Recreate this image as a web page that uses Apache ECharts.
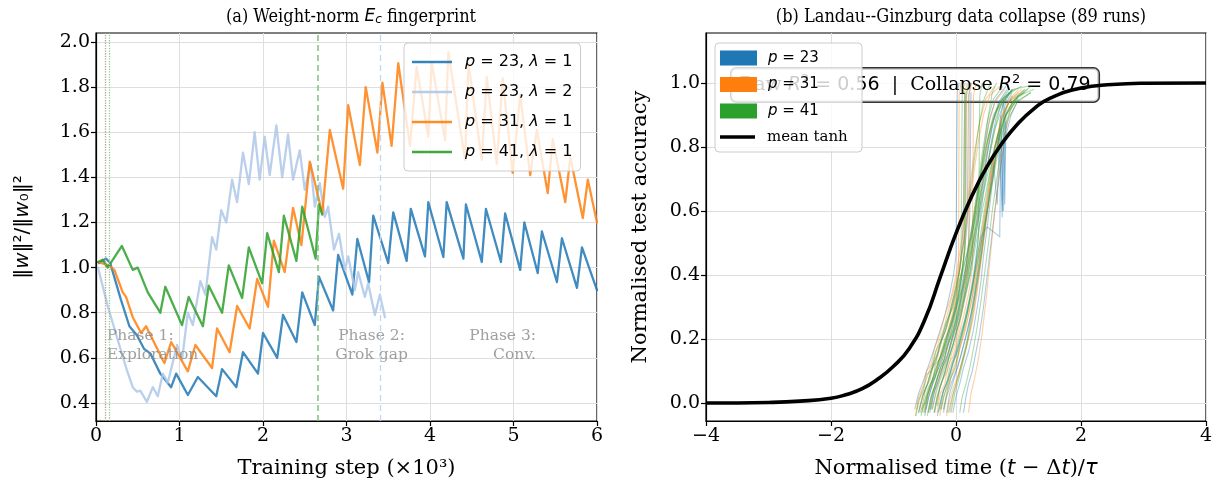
<!DOCTYPE html>
<html>
<head>
<meta charset="utf-8">
<script src="https://cdn.jsdelivr.net/npm/echarts@6.0.0/dist/echarts.min.js"></script>
<style>
  html, body { margin: 0; padding: 0; background: #fff; }
  #chart { width: 1229px; height: 491px; }
</style>
</head>
<body>
<div id="chart"></div>
<script>
// ---- panel (a): weight norm traces, x in thousands of steps ----
const normP23L1 = [[0.036,1.02],[0.12,1.04],[0.17,1.02],[0.30,0.856],[0.40,0.74],[0.49,0.70],[0.575,0.64],[0.65,0.62],[0.77,0.53],[0.90,0.47],[0.96,0.53],[1.10,0.435],[1.22,0.515],[1.44,0.43],[1.51,0.55],[1.68,0.47],[1.76,0.625],[1.94,0.53],[2.00,0.71],[2.17,0.60],[2.24,0.79],[2.40,0.67],[2.47,0.89],[2.62,0.745],[2.67,0.96],[2.84,0.81],[2.90,1.056],[3.07,0.88],[3.13,1.127],[3.27,0.935],[3.32,1.23],[3.50,1.02],[3.56,1.245],[3.72,1.03],[3.77,1.26],[3.94,1.05],[3.98,1.29],[4.16,1.047],[4.20,1.29],[4.40,1.04],[4.43,1.28],[4.62,1.025],[4.67,1.26],[4.85,1.025],[4.90,1.24],[5.08,0.99],[5.13,1.2],[5.29,0.976],[5.34,1.16],[5.52,0.936],[5.58,1.13],[5.76,0.91],[5.82,1.09],[6.0,0.9]];
const normP23L2 = [[0.024,1.0],[0.14,0.83],[0.26,0.68],[0.37,0.545],[0.44,0.47],[0.49,0.45],[0.53,0.455],[0.61,0.405],[0.68,0.47],[0.74,0.43],[0.80,0.53],[0.86,0.49],[0.97,0.657],[1.03,0.59],[1.10,0.80],[1.16,0.745],[1.25,0.94],[1.31,0.88],[1.39,1.135],[1.44,1.08],[1.50,1.255],[1.56,1.20],[1.63,1.39],[1.69,1.29],[1.76,1.51],[1.83,1.37],[1.90,1.60],[1.96,1.39],[2.02,1.58],[2.08,1.41],[2.16,1.63],[2.23,1.40],[2.30,1.59],[2.36,1.39],[2.44,1.52],[2.50,1.345],[2.57,1.46],[2.62,1.27],[2.68,1.375],[2.74,1.225],[2.78,1.27],[2.85,1.08],[2.91,1.15],[2.98,0.99],[3.02,1.05],[3.10,0.90],[3.14,0.98],[3.22,0.87],[3.26,0.93],[3.34,0.79],[3.40,0.88],[3.46,0.78]];
const normP31L1 = [[0.024,1.025],[0.15,1.01],[0.22,0.99],[0.32,0.89],[0.36,0.87],[0.44,0.78],[0.54,0.71],[0.60,0.74],[0.68,0.68],[0.80,0.59],[0.82,0.577],[0.90,0.67],[1.10,0.54],[1.19,0.657],[1.39,0.555],[1.45,0.73],[1.60,0.625],[1.69,0.83],[1.84,0.73],[1.93,0.95],[2.06,0.826],[2.13,1.12],[2.26,0.98],[2.36,1.265],[2.46,1.10],[2.56,1.47],[2.71,1.24],[2.80,1.61],[2.96,1.35],[3.02,1.72],[3.16,1.455],[3.23,1.80],[3.37,1.51],[3.43,1.82],[3.54,1.54],[3.62,1.906],[3.76,1.54],[3.84,1.89],[3.98,1.58],[4.02,1.91],[4.18,1.565],[4.22,1.955],[4.42,1.477],[4.46,1.907],[4.62,1.477],[4.68,1.845],[4.80,1.46],[4.87,1.84],[4.99,1.42],[5.08,1.765],[5.20,1.41],[5.28,1.61],[5.41,1.33],[5.47,1.57],[5.62,1.29],[5.68,1.49],[5.83,1.22],[5.89,1.39],[6.0,1.2]];
const normP41L1 = [[0.024,1.025],[0.08,1.035],[0.14,1.0],[0.31,1.096],[0.44,0.99],[0.50,1.0],[0.62,0.89],[0.77,0.80],[0.83,0.915],[1.03,0.745],[1.11,0.87],[1.28,0.74],[1.35,0.92],[1.51,0.80],[1.59,1.01],[1.75,0.865],[1.83,1.09],[1.99,0.93],[2.05,1.153],[2.19,0.98],[2.25,1.23],[2.40,1.03],[2.47,1.27],[2.63,1.04],[2.67,1.28],[2.71,1.235]];

const phaseMarkX = [0.11, 0.16, 2.65, 3.40];
const phaseText = ['Phase 1:\nExploration', 'Phase 2:\nGrok gap', 'Phase 3:\nConv.'];
const phaseTextX = [0.13, 3.3, 5.27];
const phaseTextY = [0.655, 0.655, 0.655];

const leftYTicks = [0.4, 0.6, 0.8, 1.0, 1.2, 1.4, 1.6, 1.8, 2.0];

// ---- panel (b): collapsed runs, x = (t - dt)/tau, y = normalised accuracy ----
const runsP23 = [
  [[-0.6,-0.03],[-0.54,0.02],[-0.47,0.05],[-0.4,0.1],[-0.32,0.13],[-0.25,0.19],[-0.16,0.23],[-0.08,0.29],[0.0,0.35],[0.06,0.42],[0.1,0.5],[0.12,0.62],[0.14,0.97]],
  [[-0.42,-0.03],[-0.36,0.03],[-0.3,0.06],[-0.22,0.11],[-0.15,0.14],[-0.07,0.2],[0.01,0.25],[0.09,0.32],[0.17,0.39],[0.25,0.47],[0.33,0.57],[0.41,0.68],[0.5,0.78],[0.58,0.87],[0.68,0.94],[0.82,0.98]],
  [[-0.25,-0.02],[-0.2,0.04],[-0.13,0.07],[-0.06,0.12],[0.02,0.16],[0.1,0.22],[0.18,0.28],[0.26,0.36],[0.32,0.44],[0.4,0.52],[0.5,0.55],[0.7,0.52],[0.72,0.9],[0.74,0.58],[0.76,0.95],[0.78,0.62],[0.8,0.88]],
  [[-0.5,-0.04],[-0.44,0.02],[-0.37,0.06],[-0.3,0.1],[-0.23,0.13],[-0.15,0.18],[-0.07,0.23],[0.0,0.29],[0.08,0.36],[0.16,0.43],[0.22,0.5],[0.3,0.6],[0.38,0.7],[0.46,0.8],[0.54,0.89],[0.64,0.95],[0.8,0.99]],
  [[-0.15,-0.03],[-0.1,0.03],[-0.04,0.07],[0.04,0.12],[0.12,0.18],[0.2,0.24],[0.28,0.31],[0.36,0.4],[0.42,0.48],[0.48,0.57],[0.54,0.66],[0.6,0.75],[0.66,0.62],[0.7,0.88],[0.76,0.94],[0.9,0.98]],
  [[-0.66,-0.02],[-0.6,0.03],[-0.54,0.06],[-0.47,0.1],[-0.4,0.14],[-0.33,0.18],[-0.25,0.23],[-0.17,0.28],[-0.1,0.34],[-0.04,0.4],[0.0,0.46],[0.02,0.97],[0.05,1.0]],
  [[-0.35,-0.03],[-0.3,0.02],[-0.24,0.06],[-0.17,0.1],[-0.1,0.15],[-0.02,0.2],[0.06,0.26],[0.14,0.33],[0.22,0.4],[0.28,0.48],[0.36,0.58],[0.44,0.7],[0.52,0.8],[0.6,0.88],[0.7,0.94],[0.85,0.97]],
  [[-0.05,-0.03],[0.0,0.02],[0.06,0.06],[0.12,0.11],[0.2,0.16],[0.28,0.23],[0.34,0.3],[0.4,0.38],[0.44,0.46],[0.5,0.55],[0.56,0.65],[0.62,0.75],[0.68,0.84],[0.74,0.6],[0.78,0.93],[0.9,0.97]],
  [[-0.48,-0.02],[-0.42,0.03],[-0.36,0.07],[-0.28,0.11],[-0.2,0.16],[-0.12,0.21],[-0.04,0.27],[0.04,0.34],[0.1,0.41],[0.14,0.48],[0.18,0.56],[0.2,0.96],[0.24,1.0]],
  [[-0.3,-0.04],[-0.24,0.01],[-0.18,0.05],[-0.1,0.09],[-0.03,0.14],[0.05,0.19],[0.13,0.25],[0.21,0.32],[0.28,0.4],[0.34,0.49],[0.4,0.6],[0.48,0.71],[0.56,0.81],[0.64,0.89],[0.74,0.94],[0.9,0.98]],
  [[-0.4,-0.02],[-0.34,0.04],[-0.28,0.07],[-0.2,0.12],[-0.12,0.16],[-0.04,0.22],[0.04,0.28],[0.1,0.35],[0.16,0.42],[0.2,0.5],[0.22,0.58],[0.24,0.97]],
  [[-0.2,-0.03],[-0.15,0.02],[-0.08,0.06],[0.0,0.1],[0.08,0.15],[0.16,0.21],[0.24,0.28],[0.3,0.35],[0.36,0.43],[0.42,0.52],[0.5,0.62],[0.58,0.72],[0.66,0.8],[0.72,0.86],[0.76,0.6],[0.8,0.92],[0.9,0.96]],
  [[0.12,-0.03],[0.16,0.02],[0.2,0.06],[0.26,0.1],[0.32,0.16],[0.38,0.22],[0.44,0.3],[0.5,0.4],[0.56,0.5],[0.62,0.6],[0.7,0.72],[0.78,0.82],[0.88,0.9],[1.0,0.95]]
];
const runsP31 = [
  [[-0.58,-0.02],[-0.52,0.03],[-0.45,0.06],[-0.38,0.11],[-0.3,0.14],[-0.22,0.2],[-0.14,0.24],[-0.06,0.3],[0.02,0.37],[0.08,0.44],[0.12,0.5],[0.14,0.97],[0.18,1.0]],
  [[-0.45,-0.03],[-0.4,0.02],[-0.33,0.06],[-0.26,0.1],[-0.2,0.15],[-0.12,0.19],[-0.04,0.25],[0.04,0.31],[0.12,0.38],[0.2,0.46],[0.28,0.56],[0.36,0.67],[0.44,0.78],[0.52,0.87],[0.62,0.94],[0.78,0.98]],
  [[-0.3,-0.03],[-0.25,0.03],[-0.18,0.06],[-0.12,0.12],[-0.04,0.15],[0.04,0.21],[0.12,0.27],[0.2,0.34],[0.26,0.42],[0.28,0.96],[0.32,1.0]],
  [[-0.65,-0.04],[-0.6,0.02],[-0.53,0.05],[-0.47,0.1],[-0.4,0.12],[-0.33,0.18],[-0.25,0.22],[-0.17,0.28],[-0.08,0.33],[0.0,0.4],[0.06,0.47],[0.14,0.57],[0.22,0.68],[0.3,0.79],[0.38,0.88],[0.48,0.95],[0.62,0.99]],
  [[-0.2,-0.02],[-0.14,0.03],[-0.08,0.08],[0.0,0.11],[0.06,0.17],[0.14,0.22],[0.22,0.29],[0.3,0.37],[0.36,0.45],[0.42,0.54],[0.5,0.64],[0.58,0.74],[0.66,0.83],[0.74,0.9],[0.86,0.95],[1.0,0.98]],
  [[-0.5,-0.03],[-0.44,0.03],[-0.38,0.07],[-0.3,0.1],[-0.24,0.16],[-0.16,0.2],[-0.08,0.26],[0.0,0.33],[0.08,0.4],[0.14,0.47],[0.16,0.55],[0.17,0.98]],
  [[-0.38,-0.02],[-0.32,0.04],[-0.26,0.08],[-0.18,0.12],[-0.1,0.17],[-0.02,0.22],[0.06,0.28],[0.14,0.35],[0.22,0.43],[0.3,0.52],[0.38,0.63],[0.46,0.74],[0.54,0.84],[0.64,0.91],[0.8,0.96]],
  [[-0.1,-0.03],[-0.04,0.03],[0.02,0.07],[0.08,0.12],[0.16,0.17],[0.24,0.24],[0.3,0.31],[0.36,0.39],[0.42,0.48],[0.48,0.58],[0.56,0.7],[0.64,0.8],[0.72,0.88],[0.84,0.94],[1.0,0.97]],
  [[-0.55,-0.03],[-0.48,0.01],[-0.42,0.05],[-0.35,0.09],[-0.28,0.13],[-0.2,0.17],[-0.12,0.22],[-0.04,0.28],[0.02,0.34],[0.04,0.42],[0.05,0.96],[0.08,1.0]],
  [[-0.26,-0.04],[-0.2,0.02],[-0.14,0.05],[-0.06,0.1],[0.02,0.14],[0.1,0.2],[0.18,0.26],[0.26,0.33],[0.32,0.41],[0.4,0.5],[0.48,0.61],[0.56,0.72],[0.64,0.82],[0.74,0.9],[0.88,0.95],[1.05,0.98]],
  [[-0.34,-0.03],[-0.28,0.03],[-0.22,0.07],[-0.14,0.1],[-0.06,0.16],[0.02,0.21],[0.08,0.27],[0.14,0.34],[0.18,0.41],[0.2,0.48],[0.22,0.97],[0.25,1.0]],
  [[-0.62,-0.02],[-0.56,0.03],[-0.5,0.06],[-0.43,0.1],[-0.36,0.13],[-0.28,0.19],[-0.2,0.23],[-0.12,0.29],[-0.04,0.35],[0.04,0.42],[0.12,0.5],[0.2,0.6],[0.28,0.71],[0.36,0.82],[0.44,0.9],[0.54,0.96],[0.7,0.99]],
  [[-0.15,-0.04],[-0.1,0.01],[-0.04,0.05],[0.04,0.09],[0.12,0.14],[0.2,0.2],[0.28,0.27],[0.34,0.35],[0.4,0.44],[0.46,0.53],[0.54,0.64],[0.62,0.74],[0.7,0.83],[0.8,0.9],[0.94,0.95],[1.1,0.98]],
  [[0.2,-0.03],[0.24,0.03],[0.3,0.08],[0.36,0.14],[0.42,0.22],[0.48,0.32],[0.54,0.44],[0.6,0.56],[0.68,0.7],[0.76,0.82],[0.86,0.91],[1.0,0.96]]
];
const runsP41 = [
  [[-0.64,-0.04],[-0.6,0.01],[-0.52,0.04],[-0.47,0.09],[-0.4,0.1],[-0.33,0.16],[-0.25,0.19],[-0.16,0.25],[-0.05,0.3],[0.05,0.38],[0.15,0.45],[0.28,0.55],[0.4,0.66],[0.52,0.76],[0.63,0.86],[0.75,0.93],[0.9,0.98]],
  [[-0.5,-0.03],[-0.45,0.03],[-0.38,0.06],[-0.33,0.12],[-0.25,0.14],[-0.18,0.2],[-0.08,0.24],[0.02,0.31],[0.12,0.37],[0.2,0.44],[0.3,0.53],[0.4,0.63],[0.5,0.74],[0.6,0.84],[0.7,0.92],[0.85,0.97],[1.05,0.99]],
  [[-0.42,-0.02],[-0.36,0.04],[-0.3,0.08],[-0.22,0.11],[-0.15,0.17],[-0.05,0.22],[0.03,0.28],[0.1,0.34],[0.18,0.41],[0.24,0.48],[0.3,0.58],[0.38,0.7],[0.45,0.8],[0.52,0.9],[0.58,0.97],[0.65,1.0]],
  [[-0.35,-0.03],[-0.3,0.02],[-0.22,0.07],[-0.15,0.12],[-0.08,0.16],[0.0,0.22],[0.08,0.27],[0.16,0.34],[0.25,0.42],[0.32,0.5],[0.42,0.6],[0.52,0.7],[0.62,0.8],[0.72,0.88],[0.85,0.94],[1.1,0.98]],
  [[-0.55,-0.02],[-0.48,0.05],[-0.42,0.07],[-0.35,0.13],[-0.28,0.16],[-0.2,0.22],[-0.12,0.27],[-0.04,0.33],[0.05,0.4],[0.08,0.45],[0.1,0.98],[0.15,1.0]],
  [[-0.28,-0.03],[-0.22,0.03],[-0.15,0.06],[-0.1,0.11],[-0.02,0.15],[0.06,0.21],[0.14,0.26],[0.22,0.33],[0.3,0.4],[0.38,0.48],[0.46,0.56],[0.55,0.66],[0.65,0.76],[0.75,0.85],[0.88,0.92],[1.0,0.96],[1.2,0.99]],
  [[-0.6,-0.03],[-0.52,0.03],[-0.46,0.06],[-0.4,0.1],[-0.32,0.14],[-0.26,0.18],[-0.18,0.22],[-0.1,0.28],[-0.02,0.35],[0.06,0.42],[0.12,0.5],[0.2,0.62],[0.28,0.74],[0.36,0.86],[0.45,0.95],[0.55,1.0]],
  [[-0.2,-0.02],[-0.14,0.04],[-0.08,0.08],[0.0,0.12],[0.06,0.18],[0.14,0.24],[0.2,0.3],[0.26,0.36],[0.32,0.44],[0.36,0.52],[0.38,0.96],[0.42,1.0]],
  [[-0.46,-0.04],[-0.4,0.02],[-0.34,0.05],[-0.27,0.1],[-0.2,0.13],[-0.12,0.19],[-0.04,0.23],[0.04,0.3],[0.1,0.36],[0.16,0.43],[0.22,0.5],[0.3,0.6],[0.38,0.7],[0.48,0.8],[0.58,0.88],[0.7,0.94],[0.85,0.98]],
  [[-0.38,-0.02],[-0.32,0.03],[-0.26,0.07],[-0.2,0.1],[-0.12,0.15],[-0.06,0.2],[0.02,0.25],[0.1,0.31],[0.18,0.38],[0.24,0.46],[0.3,0.55],[0.36,0.64],[0.44,0.74],[0.52,0.83],[0.62,0.9],[0.76,0.95],[0.95,0.98]],
  [[-0.3,-0.01],[-0.26,0.05],[-0.18,0.09],[-0.12,0.14],[-0.05,0.18],[0.03,0.24],[0.1,0.3],[0.18,0.37],[0.26,0.45],[0.34,0.55],[0.44,0.66],[0.56,0.76],[0.68,0.84],[0.8,0.9],[0.95,0.94],[1.2,0.97]],
  [[-0.58,-0.03],[-0.5,0.0],[-0.44,0.04],[-0.37,0.08],[-0.3,0.12],[-0.22,0.16],[-0.14,0.21],[-0.06,0.26],[0.02,0.32],[0.1,0.4],[0.18,0.47],[0.26,0.56],[0.34,0.67],[0.42,0.78],[0.5,0.88],[0.6,0.95],[0.75,0.99]],
  [[-0.12,-0.03],[-0.06,0.02],[0.0,0.06],[0.06,0.1],[0.12,0.15],[0.18,0.2],[0.24,0.27],[0.3,0.34],[0.36,0.42],[0.42,0.5],[0.5,0.6],[0.58,0.7],[0.66,0.8],[0.76,0.88],[0.9,0.94],[1.1,0.97]],
  [[-0.52,-0.03],[-0.46,0.02],[-0.4,0.06],[-0.33,0.08],[-0.28,0.13],[-0.2,0.17],[-0.12,0.23],[-0.04,0.28],[0.04,0.35],[0.1,0.42],[0.14,0.48],[0.16,0.95],[0.2,1.0]],
  [[-0.44,-0.03],[-0.38,0.03],[-0.32,0.06],[-0.25,0.11],[-0.18,0.14],[-0.1,0.2],[-0.02,0.25],[0.06,0.31],[0.14,0.38],[0.2,0.45],[0.26,0.53],[0.34,0.63],[0.42,0.73],[0.5,0.82],[0.6,0.9],[0.74,0.95],[0.92,0.98],[1.15,0.99]],
  [[-0.24,-0.02],[-0.18,0.03],[-0.12,0.07],[-0.05,0.12],[0.02,0.16],[0.1,0.22],[0.18,0.28],[0.26,0.35],[0.32,0.43],[0.38,0.51],[0.46,0.61],[0.54,0.71],[0.62,0.8],[0.72,0.87],[0.84,0.92],[1.0,0.96],[1.25,0.98]],
  [[-0.56,-0.04],[-0.5,0.01],[-0.44,0.05],[-0.38,0.07],[-0.3,0.11],[-0.22,0.15],[-0.14,0.2],[-0.06,0.25],[0.02,0.31],[0.08,0.38],[0.12,0.45],[0.14,0.52],[0.15,0.97]],
  [[-0.08,-0.03],[-0.02,0.03],[0.04,0.07],[0.1,0.12],[0.16,0.17],[0.22,0.23],[0.28,0.3],[0.34,0.38],[0.4,0.46],[0.46,0.55],[0.54,0.65],[0.62,0.75],[0.7,0.84],[0.8,0.9],[0.94,0.95],[1.15,0.98]],
  [[0.06,-0.03],[0.1,0.02],[0.16,0.06],[0.22,0.11],[0.28,0.17],[0.34,0.24],[0.4,0.32],[0.46,0.41],[0.52,0.5],[0.58,0.6],[0.66,0.71],[0.74,0.81],[0.84,0.89],[0.98,0.94],[1.2,0.97]]
];
const meanTanhX = [-4, -3, -2.5, -2, -1.75, -1.5, -1.25, -1, -0.75, -0.5, -0.25, 0, 0.25, 0.5, 0.75, 1, 1.25, 1.5, 2, 2.5, 3, 4];
const meanTanhY = [0.0, 0.002, 0.006, 0.015, 0.027, 0.045, 0.075, 0.115, 0.17, 0.26, 0.395, 0.53, 0.645, 0.74, 0.815, 0.875, 0.92, 0.952, 0.984, 0.995, 0.999, 1.0];
const rightYTicks = [0.0, 0.2, 0.4, 0.6, 0.8, 1.0];

const SERIF = 'DejaVu Serif';
const SANS = 'DejaVu Sans';
const GRID_COLOR = '#dedede';

const chart = echarts.init(document.getElementById('chart'), null, { renderer: 'canvas' });

function axisBase(extra) {
  return Object.assign({
    type: 'value',
    axisLine: { show: true, onZero: false, lineStyle: { color: '#000', width: 1.2 } },
    axisTick: { show: true, inside: false, length: 5, lineStyle: { color: '#000', width: 1.2 } },
    axisLabel: { color: '#000', fontFamily: SERIF, fontSize: 19, margin: 6 },
    splitLine: { show: true, lineStyle: { color: GRID_COLOR, width: 1 } },
    nameLocation: 'middle',
    nameTextStyle: { color: '#000', fontFamily: SERIF, fontSize: 21 }
  }, extra);
}
const minus = v => (v < 0 ? '\u2212' + Math.abs(v) : String(v));

const lineSeries = (name, data, color) => ({
  name, type: 'line', data, xAxisIndex: 0, yAxisIndex: 0,
  showSymbol: false, symbol: 'none', z: 3,
  lineStyle: { color, width: 2.3, opacity: 0.85, join: 'round', cap: 'round' },
  itemStyle: { color }
});

const leftSeries = [
  lineSeries('p = 23, λ = 1', normP23L1, '#1f77b4'),
  lineSeries('p = 23, λ = 2', normP23L2, '#aec7e8'),
  lineSeries('p = 31, λ = 1', normP31L1, '#ff7f0e'),
  lineSeries('p = 41, λ = 1', normP41L1, '#2ca02c')
];
const leftColors = ['#1f77b4', '#aec7e8', '#ff7f0e', '#2ca02c'];
const markStyles = [
  { color: '#b89f90', type: 'dotted', width: 1.3 },
  { color: '#8fd08f', type: 'dotted', width: 1.3 },
  { color: '#7cc47c', type: [6, 4], width: 1.5 },
  { color: '#c3d6ee', type: [6, 4], width: 1.3 }
];
leftSeries[0].markLine = {
  silent: true, symbol: ['none', 'none'], label: { show: false },
  data: phaseMarkX.map((v, i) => ({ xAxis: v, lineStyle: markStyles[i] }))
};
const phaseAlign = ['left', 'center', 'right'];
const phaseSeries = {
  type: 'scatter', xAxisIndex: 0, yAxisIndex: 0, symbolSize: 0, silent: true, z: 4,
  data: phaseText.map((t, i) => ({
    value: [phaseTextX[i], phaseTextY[i]], name: t,
    label: { align: phaseAlign[i] }
  })),
  label: {
    show: true, position: 'inside', formatter: p => p.name,
    color: '#888888', fontFamily: SERIF, fontSize: 15.5, lineHeight: 19
  }
};

const runColors = { 'p = 23': '#1f77b4', 'p = 31': '#ff7f0e', 'p = 41': '#2ca02c' };
const runSeries = (name, runs) => ({
  name, type: 'lines', coordinateSystem: 'cartesian2d', xAxisIndex: 1, yAxisIndex: 1,
  polyline: true, silent: true, z: 2,
  lineStyle: { color: runColors[name], width: 1.1, opacity: 0.38 },
  itemStyle: { color: runColors[name] },
  data: runs.map(r => ({ coords: r }))
});

const legendBox = {
  backgroundColor: 'transparent', borderWidth: 0, selectedMode: false, z: 7
};

const option = {
  animation: false,
  backgroundColor: '#fff',
  title: [
    { text: '(a) Weight-norm {i|E}{s|c} fingerprint', left: 346, top: 3, textAlign: 'center',
      textStyle: { fontFamily: 'DejaVu Serif Condensed', fontSize: 18, fontWeight: 'normal', color: '#000',
        rich: { i: { fontFamily: SANS, fontStyle: 'italic', fontSize: 17 }, s: { fontFamily: SANS, fontStyle: 'italic', fontSize: 12, verticalAlign: 'bottom', padding: [6, 0, 0, 0] } } } },
    { text: '(b) Landau--Ginzburg data collapse (89 runs)', left: 956, top: 3, textAlign: 'center',
      textStyle: { fontFamily: 'DejaVu Serif Condensed', fontSize: 18, fontWeight: 'normal', color: '#000' } }
  ],
  grid: [
    { left: 96, top: 33, width: 501, height: 388, show: true, borderColor: '#000', borderWidth: 1.2, backgroundColor: 'transparent' },
    { left: 706, top: 33, width: 500, height: 388, show: true, borderColor: '#000', borderWidth: 1.2, backgroundColor: 'transparent' }
  ],
  xAxis: [
    axisBase({ gridIndex: 0, min: 0, max: 6, interval: 1, name: 'Training step (×10³)', nameGap: 37 }),
    axisBase({ gridIndex: 1, min: -4, max: 4, interval: 2, nameGap: 37,
      name: 'Normalised time ({i|t} − Δ{i|t})/{i|τ}',
      nameTextStyle: { color: '#000', fontFamily: SERIF, fontSize: 21, rich: { i: { fontFamily: SANS, fontStyle: 'italic', fontSize: 21 } } },
      axisLabel: { color: '#000', fontFamily: SERIF, fontSize: 19, margin: 6, formatter: minus } })
  ],
  yAxis: [
    axisBase({ gridIndex: 0, min: 0.32, max: 2.04, nameGap: 63,
      name: '‖{i|w}‖²/‖{i|w}₀‖²',
      nameTextStyle: { color: '#000', fontFamily: SANS, fontSize: 20, rich: { i: { fontFamily: SANS, fontStyle: 'italic', fontSize: 20 } } },
      axisTick: { show: true, length: 5, customValues: leftYTicks, lineStyle: { color: '#000', width: 1.2 } },
      axisLabel: { color: '#000', fontFamily: SERIF, fontSize: 19, margin: 6, customValues: leftYTicks, formatter: v => v.toFixed(1) } }),
    axisBase({ gridIndex: 1, min: -0.056, max: 1.156, nameGap: 55, name: 'Normalised test accuracy',
      axisTick: { show: true, length: 5, customValues: rightYTicks, lineStyle: { color: '#000', width: 1.2 } },
      axisLabel: { color: '#000', fontFamily: SERIF, fontSize: 19, margin: 6, customValues: rightYTicks, formatter: v => v.toFixed(1) } })
  ],
  legend: [
    Object.assign({}, legendBox, {
      data: leftSeries.map((s, i) => ({ name: s.name, icon: 'rect', itemStyle: { color: leftColors[i], opacity: 0.9 } })),
      orient: 'vertical', left: 404, top: 43, width: 183,
      itemWidth: 40, itemHeight: 2.6, itemGap: 10, padding: [9, 8, 9, 8],
      backgroundColor: 'rgba(255,255,255,0.8)', borderColor: '#cccccc', borderWidth: 1, borderRadius: 4,
      formatter: n => n.replace('p', '{i|p}').replace('λ', '{i|λ}'),
      textStyle: { fontFamily: SANS, fontSize: 16, lineHeight: 20, color: '#000', padding: [0, 0, 0, 8],
        rich: { i: { fontFamily: SANS, fontStyle: 'italic', fontSize: 16, lineHeight: 20 } } } }),
    Object.assign({}, legendBox, {
      data: [
        { name: 'p = 23', itemStyle: { color: '#1f77b4', opacity: 1 } },
        { name: 'p = 31', itemStyle: { color: '#ff7f0e', opacity: 1 } },
        { name: 'p = 41', itemStyle: { color: '#2ca02c', opacity: 1 } }
      ],
      icon: 'rect', orient: 'vertical', left: 720, top: 49.5, padding: 0,
      itemWidth: 35, itemHeight: 13, itemGap: 9.5,
      formatter: n => '{i|p}' + n.slice(1),
      textStyle: { fontFamily: SANS, fontSize: 15, lineHeight: 17, color: '#000', padding: [0, 0, 0, 7],
        rich: { i: { fontFamily: SANS, fontStyle: 'italic', fontSize: 15, lineHeight: 17 } } } }),
    Object.assign({}, legendBox, {
      data: [{ name: 'mean tanh', itemStyle: { color: '#000', opacity: 1 } }],
      icon: 'rect', orient: 'vertical', left: 720, top: 128.5, padding: 0,
      itemWidth: 35, itemHeight: 3.6,
      textStyle: { fontFamily: SERIF, fontSize: 15, lineHeight: 17, color: '#000', padding: [0, 0, 0, 7] } })
  ],
  graphic: [
    {
      type: 'text', x: 915, y: 85, z: 1, silent: true,
      style: {
        text: '{n|Raw }{i|R}{s|2}{m| = 0.56}{n|  |  Collapse }{i|R}{s|2}{m| = 0.79}',
        align: 'center', verticalAlign: 'middle',
        backgroundColor: 'rgba(255,255,255,0.8)', borderColor: '#333', borderWidth: 1.5, borderRadius: 5,
        padding: [5, 8, 5, 8],
        rich: {
          n: { fontFamily: SERIF, fontSize: 19, fill: '#000', lineHeight: 23 },
          m: { fontFamily: SANS, fontSize: 19, fill: '#000', lineHeight: 23 },
          i: { fontFamily: SANS, fontStyle: 'italic', fontSize: 19, fill: '#000', lineHeight: 23 },
          s: { fontFamily: SANS, fontSize: 13, fill: '#000', verticalAlign: 'top', lineHeight: 23 }
        }
      }
    },
    {
      type: 'rect', z: 6, silent: true,
      shape: { x: 715, y: 43, width: 147, height: 109, r: 4 },
      style: { fill: 'rgba(255,255,255,0.8)', stroke: '#cccccc', lineWidth: 1 }
    }
  ],
  series: [
    ...leftSeries,
    phaseSeries,
    runSeries('p = 23', runsP23),
    runSeries('p = 31', runsP31),
    runSeries('p = 41', runsP41),
    { name: 'mean tanh', type: 'line', xAxisIndex: 1, yAxisIndex: 1, smooth: true, symbol: 'none', z: 5,
      data: meanTanhX.map((x, i) => [x, meanTanhY[i]]),
      lineStyle: { color: '#000', width: 3.6 }, itemStyle: { color: '#000' } }
  ]
};
chart.setOption(option);
window.onresize = () => chart.resize();
</script>
</body>
</html>
